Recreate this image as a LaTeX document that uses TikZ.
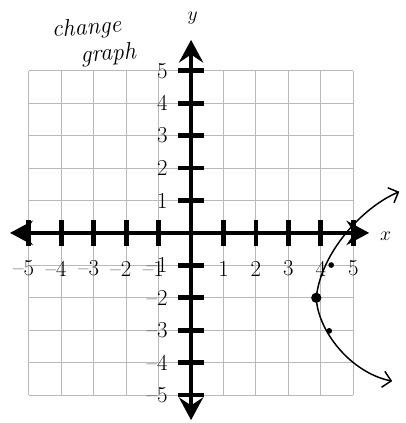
\documentclass[tikz,border=0pt]{standalone}
\usetikzlibrary{arrows.meta}

\begin{document}
\begin{tikzpicture}[
    gridline/.style={gray!55, line width=0.8pt},
    axis/.style={line width=4.2pt, {Stealth[length=7mm, width=7.5mm, inset=2.5mm]}-{Stealth[length=7mm, width=7.5mm, inset=2.5mm]}},
    axistick/.style={line width=4.2pt},
    numlabel/.style={font=\fontsize{20}{23}\selectfont, inner sep=1pt},
    axislabel/.style={font=\fontsize{19}{21}\selectfont},
    note/.style={font=\fontsize{21}{23}\selectfont\itshape},
    curve/.style={line width=1.3pt, {Straight Barb[length=2.5mm, width=5mm]}-{Straight Barb[length=2.5mm, width=5mm]}},
    ptdot/.style={circle, fill, inner sep=0pt}
  ]
    \useasboundingbox (-5.89,-5.86) rectangle (6.60,7.18);
    % grid
    \draw[gridline] (-5,-5) grid (5,5);
    % axes
    \coordinate (xl) at (-5.58,0);
    \coordinate (xr) at (5.49,0);
    \coordinate (yb) at (0,-5.77);
    \coordinate (yt) at (0,5.95);
    \foreach \k in {-5,...,-1,1,2,...,5} {
      \draw[axistick] (\k,-0.4) -- (\k,0.4);
      \draw[axistick] (-0.4,\k) -- (0.4,\k);
    }
    \draw[axis] (xl) -- (xr);
    \draw[axis] (yb) -- (yt);
    \node[axislabel] (xlab) at (6.0,-0.1) {$x$};
    \node[axislabel] (ylab) at (0.05,6.62) {$y$};
    % numbers
    \foreach \k in {1,...,5} {
      \node[numlabel] (xp\k) at (\k,-1.1) {\k};
      \node[numlabel] (xn\k) at (-\k,-1.1) {\llap{--}\k};
      \node[numlabel, anchor=east] (yp\k) at (-0.68,\k) {\k};
      \node[numlabel, anchor=east] (yn\k) at (-0.68,-\k) {--\k};
    }
    % note
    \node[note, rotate=4] (chg) at (-3.22,6.3) {change};
    \node[note, rotate=4] (grp) at (-2.55,5.5) {graph};
    % parabola
    \draw[curve] (6.42,1.27) .. controls (5.3,0.8) and (4.0,-0.6) .. (3.86,-2)
      .. controls (3.9,-3.0) and (4.9,-4.3) .. (6.20,-4.57);
    \node[ptdot, minimum size=9pt] (vertex) at (3.86,-2) {};
    \node[ptdot, minimum size=5pt] (ptup) at (4.32,-0.99) {};
    \node[ptdot, minimum size=5pt] (ptdown) at (4.26,-3.02) {};
\end{tikzpicture}
\end{document}
